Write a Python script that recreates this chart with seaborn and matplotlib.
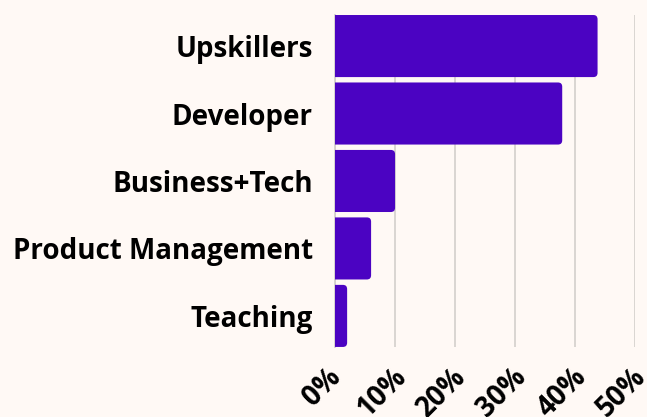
import matplotlib
matplotlib.use("Agg")
import matplotlib.pyplot as plt
import matplotlib.transforms as mtransforms
from matplotlib.patches import FancyBboxPatch
import pandas as pd
import seaborn as sns

# chart data
categories = ["Upskillers", "Developer", "Business+Tech", "Product Management", "Teaching"]
shares = [43.8, 37.9, 10.0, 6.0, 2.0]
tick_values = [0, 10, 20, 30, 40, 50]
tick_labels = ["0%", "10%", "20%", "30%", "40%", "50%"]

BG = "#FFF9F5"
BAR = "#4B03C2"
GRID = "#D3CFCC"

df = pd.DataFrame({"Role": categories, "Share": shares})

sns.set_theme(style="white")
plt.rcParams["font.family"] = ["Open Sans", "DejaVu Sans"]

fig = plt.figure(figsize=(6.47, 4.17), dpi=100, facecolor=BG)
ax = fig.add_axes([0.518, 0.168, 0.463, 0.796])
ax.set_facecolor(BG)

sns.barplot(data=df, x="Share", y="Role", order=categories, color=BAR,
            saturation=1, width=0.92, ax=ax, zorder=3)

# swap the plain rectangles for ones with rounded ends
for p in list(ax.patches):
    x0, y0, w, h = p.get_x(), p.get_y(), p.get_width(), p.get_height()
    rounded = FancyBboxPatch((x0 - 1, y0), w + 1, h,
                             boxstyle="round,pad=0,rounding_size=0.7",
                             mutation_aspect=0.09, facecolor=BAR,
                             edgecolor="none", zorder=3, clip_on=True)
    p.remove()
    ax.add_patch(rounded)

ax.set_xlim(0, 50)
ax.set_ylim(4.46, -0.46)
ax.set_xticks(tick_values)
ax.set_xticklabels(tick_labels, rotation=45, ha="center",
                   fontsize=20, fontweight="bold", color="black")
ax.set_yticklabels(categories, fontsize=20, fontweight="bold", color="black")
ax.tick_params(axis="both", length=0)
ax.tick_params(axis="x", pad=11)
ax.tick_params(axis="y", pad=16)
shift = mtransforms.ScaledTranslation(-13 / 100, 0, fig.dpi_scale_trans)
for lbl in ax.get_xticklabels():
    lbl.set_transform(lbl.get_transform() + shift)
ax.xaxis.grid(True, color=GRID, linewidth=1.2, zorder=0)
ax.set_xlabel("")
ax.set_ylabel("")
for s in ["top", "right", "bottom"]:
    ax.spines[s].set_visible(False)
ax.spines["left"].set_color(GRID)

fig.savefig("out.png", dpi=100, facecolor=BG)
